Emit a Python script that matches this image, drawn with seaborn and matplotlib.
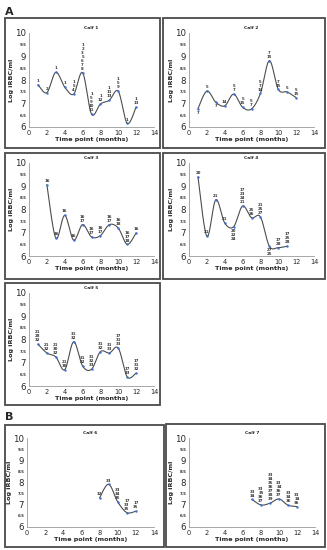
import numpy as np
import matplotlib
matplotlib.use("Agg")
import matplotlib.pyplot as plt
import seaborn as sns
from matplotlib.patches import Rectangle

sns.set_style("white")
plt.rcParams['font.family'] = ['DejaVu Sans']

# Calf data: time point (months), log iRBC/ml, isolate labels per point
calf1_x = [1, 2, 3, 4, 5, 6, 7, 8, 9, 10, 11, 12]
calf1_y = [7.8, 7.46, 8.33, 7.7, 7.4, 8.31, 6.55, 6.98, 7.14, 7.52, 6.15, 6.85]
calf1_lab = ["1", "2", "1", "1", "1\n5\n4", "1\n2\n3\n5\n6\n7\n8", "1\n5\n9\n10\n11",
             "1\n12", "1\n11\n13", "1\n5\n9", "1", "1\n13"]

calf2_x = [1, 2, 3, 4, 5, 6, 7, 8, 9, 10, 11, 12]
calf2_y = [6.78, 7.53, 7.05, 6.9, 7.4, 6.84, 6.77, 7.43, 8.82, 7.6, 7.49, 7.25]
calf2_lab = ["7", "5", "7", "14", "5\n7", "5\n15", "5\n7", "5\n7\n14", "7\n15",
             "7\n15", "5", "5\n15"]

calf3_x = [2, 3, 4, 5, 6, 7, 8, 9, 10, 11, 12]
calf3_y = [9.07, 6.77, 7.75, 6.68, 7.35, 6.82, 6.88, 7.35, 7.2, 6.5, 7.0]
calf3_lab = ["16", "16", "16", "16", "16\n17", "16\n17", "16\n17", "16\n17",
             "16\n18", "16\n17\n18", "16"]

calf4_x = [1, 2, 3, 4, 5, 6, 7, 8, 9, 10, 11]
calf4_y = [9.41, 6.85, 8.42, 7.42, 7.26, 8.15, 7.65, 7.68, 6.42, 6.36, 6.42]
calf4_lab = ["20", "21", "21", "21", "20\n22\n24", "17\n23\n24\n21", "25\n26",
             "21\n25\n27", "27\n25", "17\n28", "17\n25\n28"]

calf5_x = [1, 2, 3, 4, 5, 6, 7, 8, 9, 10, 11, 12]
calf5_y = [7.8, 7.42, 7.25, 6.7, 7.9, 6.86, 6.72, 7.48, 7.42, 7.63, 6.39, 6.56]
calf5_lab = ["21\n28\n32", "21\n32", "21\n30\n32", "21\n30", "31\n32", "31\n32",
             "31\n32\n33", "31\n32", "31\n33", "17\n31\n33", "17\n33", "17\n31\n32"]

calf6_x = [8, 9, 10, 11, 12]
calf6_y = [7.31, 7.92, 7.13, 6.65, 6.71]
calf6_lab = ["32", "33", "33\n34\n35", "17\n33\n35", "17\n35"]

calf7_x = [7, 8, 9, 10, 11, 12]
calf7_y = [7.24, 6.99, 7.07, 7.26, 6.98, 6.92]
calf7_lab = ["33\n34", "33\n35\n36\n37", "33\n34\n35\n36\n37\n38\n39",
             "33\n34\n36\n37", "33\n34\n36", "33\n34\n36"]

W, H = 327, 550
fig = plt.figure(figsize=(W / 100, H / 100), dpi=100)


def px_rect(l, t, r, b):
    return [l / W, 1 - b / H, (r - l) / W, (b - t) / H]


def smooth(x, y, n=30):
    # Excel-like smoothed line (Catmull-Rom bezier) for drawing only
    x = np.asarray(x, float)
    y = np.asarray(y, float)
    P = np.column_stack([x, y])
    P = np.vstack([P[0], P, P[-1]])
    out = []
    t = np.linspace(0, 1, n)[:, None]
    for i in range(1, len(P) - 2):
        p0, p1, p2, p3 = P[i - 1], P[i], P[i + 1], P[i + 2]
        c1 = p1 + (p2 - p0) / 6
        c2 = p2 - (p3 - p1) / 6
        seg = ((1 - t) ** 3) * p1 + 3 * ((1 - t) ** 2) * t * c1 + 3 * (1 - t) * t ** 2 * c2 + t ** 3 * p2
        out.append(seg)
    seg = np.vstack(out)
    return seg[:, 0], seg[:, 1]


panels = [
    ("Calf 1", calf1_x, calf1_y, calf1_lab, (29, 33, 154, 127), (5, 18, 160, 148), set()),
    ("Calf 2", calf2_x, calf2_y, calf2_lab, (189, 33, 314, 127), (163, 18, 325, 148), {0, 2}),
    ("Calf 3", calf3_x, calf3_y, calf3_lab, (29, 163, 154, 256), (5, 153, 160, 279), set()),
    ("Calf 4", calf4_x, calf4_y, calf4_lab, (189, 163, 314, 256), (163, 153, 325, 279), {4, 8}),
    ("Calf 5", calf5_x, calf5_y, calf5_lab, (29, 293, 154, 386), (5, 283, 160, 405), set()),
    ("Calf 6", calf6_x, calf6_y, calf6_lab, (27, 438, 154, 527), (5, 425, 164, 547), set()),
    ("Calf 7", calf7_x, calf7_y, calf7_lab, (189, 438, 315, 527), (166, 424, 325, 547), set()),
]

yticks = [6, 6.5, 7, 7.5, 8, 8.5, 9, 9.5, 10]

for title, xs, ys, labs, arect, brect, below in panels:
    # panel frame
    bl, bt, br, bb = brect
    fig.patches.append(Rectangle((bl / W, 1 - bb / H), (br - bl) / W, (bb - bt) / H,
                                 transform=fig.transFigure, fill=False,
                                 edgecolor="#4a4a4a", linewidth=1.3))
    ax = fig.add_axes(px_rect(*arect))
    sx, sy = smooth(xs, ys)
    sns.lineplot(x=sx, y=sy, ax=ax, color="#4d4d4d", linewidth=0.8, sort=False, estimator=None)
    sns.scatterplot(x=xs, y=ys, ax=ax, color="#3a6fd8", s=3, linewidth=0, zorder=3)
    for i, (x, y, lab) in enumerate(zip(xs, ys, labs)):
        if i in below:
            ax.text(x, y - 0.08, lab, ha="center", va="top", fontsize=2.8,
                    fontweight="bold", linespacing=1.0, color="#333333")
        else:
            ax.text(x, y + 0.08, lab, ha="center", va="bottom", fontsize=2.8,
                    fontweight="bold", linespacing=1.0, color="#333333")
    ax.set_xlim(0, 14)
    ax.set_ylim(6, 10)
    ax.set_xticks(range(0, 15, 2))
    ax.set_xticklabels([str(v) for v in range(0, 15, 2)], fontsize=4.8)
    ax.set_yticks(yticks)
    ax.set_yticklabels([("%d" % v) if v == int(v) else ("%.1f" % v) for v in yticks])
    for v, tl in zip(yticks, ax.get_yticklabels()):
        if v == int(v):
            tl.set_fontsize(6.2)
        else:
            tl.set_fontsize(2.8)
            tl.set_fontweight("bold")
    ax.tick_params(length=0, pad=2)
    for s in ["top", "right"]:
        ax.spines[s].set_visible(False)
    for s in ["left", "bottom"]:
        ax.spines[s].set_color("#999999")
        ax.spines[s].set_linewidth(0.6)
    ax.set_xlabel("Time point (months)", fontsize=4.6, fontweight="bold", labelpad=1)
    ax.set_ylabel("Log iRBC/ml", fontsize=4.6, fontweight="bold", labelpad=1)
    ax.set_title(title, fontsize=3.2, fontweight="bold", pad=3)
    ax.patch.set_alpha(0)

fig.text(5 / W, 1 - 12 / H, "A", fontsize=8, fontweight="bold", va="center", ha="left")
fig.text(5 / W, 1 - 417 / H, "B", fontsize=8, fontweight="bold", va="center", ha="left")

fig.savefig("out.png", dpi=100)
